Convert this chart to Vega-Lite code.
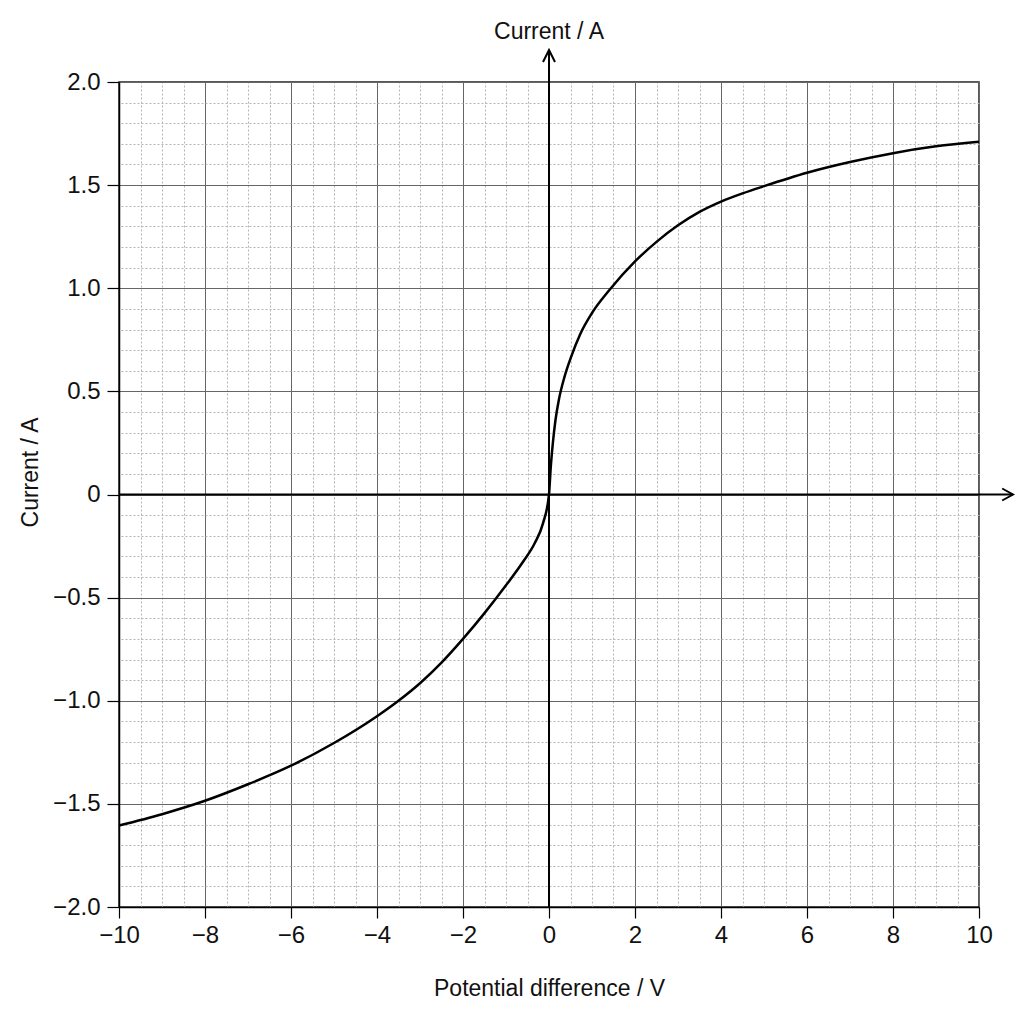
{
  "$schema": "https://vega.github.io/schema/vega-lite/v6.json",
  "width": 860,
  "height": 825,
  "autosize": {"type": "none"},
  "padding": {"left": 119, "top": 82, "right": 45, "bottom": 117},
  "background": "white",
  "title": {
    "text": "Current / A",
    "anchor": "middle",
    "frame": "group",
    "baseline": "alphabetic",
    "offset": -16,
    "font": "Liberation Sans",
    "fontSize": 23,
    "fontWeight": "normal",
    "color": "#111"
  },
  "layer": [
    {
      "data": {"values": [{}]},
      "mark": {"type": "rule", "color": "black", "strokeWidth": 2},
      "encoding": {
        "x": {
          "datum": 0,
          "type": "quantitative",
          "scale": {"domain": [-10, 10], "nice": false, "zero": false},
          "axis": {
            "orient": "top",
            "values": [-9.5, -9, -8.5, -7.5, -7, -6.5, -5.5, -5, -4.5, -3.5, -3, -2.5, -1.5, -1, -0.5, 0.5, 1, 1.5, 2.5, 3, 3.5, 4.5, 5, 5.5, 6.5, 7, 7.5, 8.5, 9, 9.5],
            "grid": true, "gridColor": "#b5b5b5", "gridDash": [2, 2], "gridWidth": 1,
            "domain": false, "ticks": false, "labels": false, "title": null
          }
        },
        "y": {
          "datum": -2,
          "type": "quantitative",
          "scale": {"domain": [-2, 2], "nice": false, "zero": false},
          "axis": {
            "orient": "right",
            "values": [-1.9, -1.8, -1.7, -1.6, -1.4, -1.3, -1.2, -1.1, -0.9, -0.8, -0.7, -0.6, -0.4, -0.3, -0.2, -0.1, 0.1, 0.2, 0.3, 0.4, 0.6, 0.7, 0.8, 0.9, 1.1, 1.2, 1.3, 1.4, 1.6, 1.7, 1.8, 1.9],
            "grid": true, "gridColor": "#b5b5b5", "gridDash": [2, 2], "gridWidth": 1,
            "domain": false, "ticks": false, "labels": false, "title": null
          }
        },
        "y2": {"datum": 2.155}
      }
    },
    {
      "data": {
        "values": [
          {"voltage": -10, "current": -1.605},
          {"voltage": -9, "current": -1.55},
          {"voltage": -8, "current": -1.485},
          {"voltage": -7, "current": -1.405},
          {"voltage": -6, "current": -1.315},
          {"voltage": -5, "current": -1.205},
          {"voltage": -4, "current": -1.075},
          {"voltage": -3.5, "current": -1.0},
          {"voltage": -3, "current": -0.915},
          {"voltage": -2.5, "current": -0.815},
          {"voltage": -2, "current": -0.7},
          {"voltage": -1.5, "current": -0.575},
          {"voltage": -1, "current": -0.44},
          {"voltage": -0.6, "current": -0.325},
          {"voltage": -0.33, "current": -0.235},
          {"voltage": -0.14, "current": -0.14},
          {"voltage": 0, "current": 0},
          {"voltage": 0.04, "current": 0.13},
          {"voltage": 0.09, "current": 0.25},
          {"voltage": 0.15, "current": 0.36},
          {"voltage": 0.23, "current": 0.46},
          {"voltage": 0.36, "current": 0.57},
          {"voltage": 0.51, "current": 0.665},
          {"voltage": 0.72, "current": 0.775},
          {"voltage": 1, "current": 0.88},
          {"voltage": 1.4, "current": 0.99},
          {"voltage": 2, "current": 1.13},
          {"voltage": 2.5, "current": 1.225},
          {"voltage": 3, "current": 1.305},
          {"voltage": 3.5, "current": 1.37},
          {"voltage": 4, "current": 1.42},
          {"voltage": 4.5, "current": 1.46},
          {"voltage": 5, "current": 1.495},
          {"voltage": 6, "current": 1.56},
          {"voltage": 7, "current": 1.612},
          {"voltage": 8, "current": 1.655},
          {"voltage": 9, "current": 1.688},
          {"voltage": 10, "current": 1.71}
        ]
      },
      "mark": {"type": "line", "color": "black", "strokeWidth": 2.5, "interpolate": "monotone"},
      "encoding": {
        "x": {
          "field": "voltage",
          "type": "quantitative",
          "scale": {"domain": [-10, 10], "nice": false, "zero": false},
          "axis": {
            "orient": "bottom",
            "values": [-10, -8, -6, -4, -2, 0, 2, 4, 6, 8, 10],
            "grid": true, "gridColor": "#666", "gridWidth": 1,
            "domainColor": "black", "domainWidth": 1.5,
            "tickColor": "black", "tickSize": 11, "tickWidth": 1.2,
            "labelFont": "Liberation Sans", "labelFontSize": 24, "labelColor": "#111", "labelPadding": 5,
            "labelFlush": false, "labelOverlap": false,
            "title": "Potential difference / V",
            "titleFont": "Liberation Sans", "titleFontSize": 23, "titleFontWeight": "normal", "titleColor": "#111",
            "titleBaseline": "alphabetic", "titleY": 88
          }
        },
        "y": {
          "field": "current",
          "type": "quantitative",
          "scale": {"domain": [-2, 2], "nice": false, "zero": false},
          "axis": {
            "orient": "left",
            "values": [-2, -1.5, -1, -0.5, 0, 0.5, 1, 1.5, 2],
            "labelExpr": "datum.value === 0 ? '0' : format(datum.value, '.1f')",
            "grid": true, "gridColor": "#666", "gridWidth": 1,
            "domainColor": "black", "domainWidth": 1.5,
            "tickColor": "black", "tickSize": 12, "tickWidth": 1.2,
            "labelFont": "Liberation Sans", "labelFontSize": 24, "labelColor": "#111", "labelPadding": 7,
            "labelFlush": false, "labelOverlap": false,
            "title": "Current / A",
            "titleFont": "Liberation Sans", "titleFontSize": 23, "titleFontWeight": "normal", "titleColor": "#111",
            "titleBaseline": "alphabetic", "titleX": -82, "titleY": 390
          }
        }
      }
    },
    {
      "data": {"values": [{}]},
      "mark": {"type": "rule", "color": "black", "strokeWidth": 2},
      "encoding": {
        "x": {"datum": -10, "type": "quantitative", "axis": null},
        "x2": {"datum": 10.79},
        "y": {"datum": 0, "type": "quantitative", "axis": null}
      }
    },
    {
      "data": {"values": [{}]},
      "mark": {"type": "point", "shape": "M-1,2L0,0L1,2", "size": 144, "filled": false, "stroke": "black", "strokeWidth": 2, "opacity": 1},
      "encoding": {
        "x": {"datum": 0, "type": "quantitative", "axis": null},
        "y": {"datum": 2.155, "type": "quantitative", "axis": null}
      }
    },
    {
      "data": {"values": [{}]},
      "mark": {"type": "point", "shape": "M-1.8,-1L0,0L-1.8,1", "size": 144, "filled": false, "stroke": "black", "strokeWidth": 2, "opacity": 1},
      "encoding": {
        "x": {"datum": 10.79, "type": "quantitative", "axis": null},
        "y": {"datum": 0, "type": "quantitative", "axis": null}
      }
    }
  ],
  "resolve": {"axis": {"x": "independent", "y": "independent"}},
  "config": {
    "view": {"stroke": "#222", "strokeWidth": 1.5}
  }
}
